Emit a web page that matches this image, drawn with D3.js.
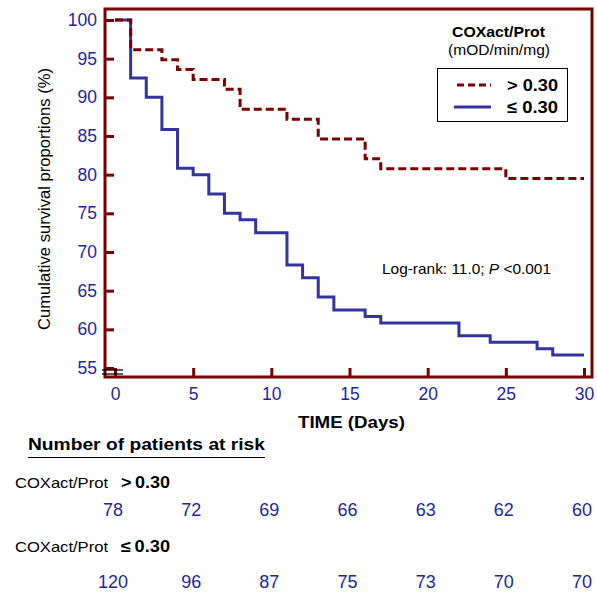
<!DOCTYPE html>
<html><head><meta charset="utf-8">
<script src="https://cdn.jsdelivr.net/npm/d3@7"></script>
<style>body{margin:0;background:#fff}svg{display:block}text{font-family:Arial,"Liberation Sans",sans-serif}</style>
</head><body>
<script>
const timesHigh = [0,1,3,4,5,7,8,11,13,16,17,25];
const survHigh  = [100,96.15,94.87,93.59,92.31,91.03,88.46,87.18,84.62,82.05,80.77,79.49];
const timesLow  = [0,1,2,3,4,5,6,7,8,9,11,12,13,14,16,17,22,24,27,28];
const survLow   = [100,92.5,90.0,85.83,80.83,80.0,77.5,75.0,74.17,72.5,68.33,66.67,64.17,62.5,61.67,60.83,59.17,58.33,57.5,56.67];
const endTime = 30;
const xTicks = [0,5,10,15,20,25,30];
const yTicks = [55,60,65,70,75,80,85,90,95,100];
const riskTimes = [0,5,10,15,20,25,30];
const riskHigh = [78,72,69,66,63,62,60];
const riskLow  = [120,96,87,75,73,70,70];

const RED = "#7A0000", BLUE = "#34349E", TBLUE = "#25259A";
const W = 597, H = 603;
const svg = d3.select("body").append("svg").attr("width", W).attr("height", H);

const x = d3.scaleLinear().domain([0,30]).range([115,584]);
const y = d3.scaleLinear().domain([55,100]).range([368,20]);

function fit(sel, len){ return sel.attr("textLength", len).attr("lengthAdjust","spacingAndGlyphs"); }

// frame
svg.append("rect").attr("x",105).attr("y",9).attr("width",487).attr("height",368)
  .attr("fill","none").attr("stroke",RED).attr("stroke-width",3);

// y axis
const gy = svg.append("g").attr("transform","translate(105,0)")
  .call(d3.axisLeft(y).tickValues(yTicks).tickSize(-9).tickPadding(8));
gy.select(".domain").remove();
gy.selectAll(".tick line").attr("stroke",RED).attr("stroke-width",3);
gy.selectAll(".tick text").attr("fill",TBLUE).style("font-size","17.5px").style("font-family","Arial");

// x axis
const gx = svg.append("g").attr("transform","translate(0,377)")
  .call(d3.axisBottom(x).tickValues(xTicks).tickSize(-9).tickPadding(11));
gx.select(".domain").remove();
gx.selectAll(".tick line").attr("stroke",RED).attr("stroke-width",3);
gx.selectAll(".tick text").attr("fill",TBLUE).style("font-size","17.5px").style("font-family","Arial");

// axis break marks
[370,374].forEach(yy => svg.append("line").attr("x1",102).attr("x2",123).attr("y1",yy).attr("y2",yy)
  .attr("stroke","#000").attr("stroke-width",1.3));

// curves
const line = d3.line().x(d=>x(d[0])).y(d=>y(d[1])).curve(d3.curveStepAfter);
function pts(ts, ss){ const p = ts.map((t,i)=>[t,ss[i]]); p.push([endTime, ss[ss.length-1]]); return p; }
svg.append("path").attr("d", line(pts(timesLow, survLow))).attr("fill","none")
  .attr("stroke",BLUE).attr("stroke-width",3);
svg.append("path").attr("d", line(pts(timesHigh, survHigh))).attr("fill","none")
  .attr("stroke",RED).attr("stroke-width",3).attr("stroke-dasharray","8,4");

// titles
fit(svg.append("text").attr("transform","translate(50,199) rotate(-90)").attr("text-anchor","middle")
  .style("font-size","16.5px").text("Cumulative survival proportions (%)"), 262);
fit(svg.append("text").attr("x",298).attr("y",428)
  .style("font-size","17px").style("font-weight","bold").text("TIME (Days)"), 107);

// log-rank
const lr = svg.append("text").attr("x",382).attr("y",274).style("font-size","15px");
lr.append("tspan").text("Log-rank: 11.0; ");
lr.append("tspan").style("font-style","italic").text("P");
lr.append("tspan").text(" <0.001");
fit(lr, 169);

// legend
fit(svg.append("text").attr("x",452).attr("y",37)
  .style("font-size","15px").style("font-weight","bold").text("COXact/Prot"), 93);
fit(svg.append("text").attr("x",448).attr("y",55)
  .style("font-size","14.5px").text("(mOD/min/mg)"), 102);
svg.append("rect").attr("x",437.5).attr("y",68.5).attr("width",130).attr("height",53)
  .attr("fill","#fff").attr("stroke","#000").attr("stroke-width",1);
svg.append("line").attr("x1",457).attr("x2",491).attr("y1",85).attr("y2",85)
  .attr("stroke",RED).attr("stroke-width",3).attr("stroke-dasharray","7,4");
svg.append("line").attr("x1",454).attr("x2",491).attr("y1",107).attr("y2",107)
  .attr("stroke",BLUE).attr("stroke-width",3);
fit(svg.append("text").attr("x",507).attr("y",91).style("font-size","17px").style("font-weight","bold").text("> 0.30"), 51);
fit(svg.append("text").attr("x",507).attr("y",113).style("font-size","17px").style("font-weight","bold").text("≤ 0.30"), 51);

// risk table
fit(svg.append("text").attr("x",28).attr("y",450).style("font-size","17px").style("font-weight","bold")
  .text("Number of patients at risk"), 237);
svg.append("line").attr("x1",28).attr("x2",265).attr("y1",457.5).attr("y2",457.5).attr("stroke","#000").attr("stroke-width",1.2);

function rowLabel(yy, sym){
  fit(svg.append("text").attr("x",15).attr("y",yy).style("font-size","14.5px").text("COXact/Prot"), 93);
  fit(svg.append("text").attr("x",121).attr("y",yy).style("font-size","16px").style("font-weight","bold")
    .text(sym + "\u20090.30"), 49);
}
rowLabel(488, ">");
rowLabel(552, "≤");
svg.append("g").selectAll("text").data(riskHigh).join("text")
  .attr("x",(d,i)=>x(riskTimes[i])-2).attr("y",516).attr("text-anchor","middle")
  .attr("fill",TBLUE).style("font-size","18px").text(d=>d);
svg.append("g").selectAll("text").data(riskLow).join("text")
  .attr("x",(d,i)=>x(riskTimes[i])-2).attr("y",588).attr("text-anchor","middle")
  .attr("fill",TBLUE).style("font-size","18px").text(d=>d);
</script>
</body></html>
